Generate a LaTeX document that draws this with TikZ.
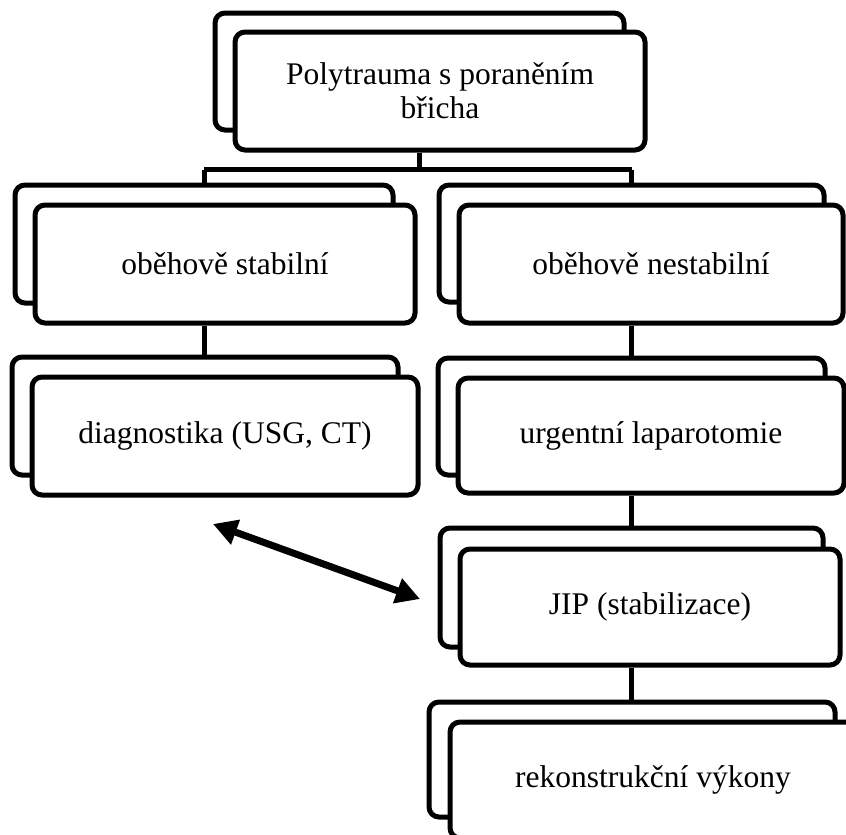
\documentclass[tikz,border=0pt]{standalone}
\usepackage{fontspec}
\setmainfont{Liberation Serif}
\usetikzlibrary{arrows.meta}
\tikzset{
  box/.style={draw, line width=5pt, rounded corners=10pt, fill=white,
    inner sep=0pt, align=center, font=\fontsize{31.5}{34}\selectfont},
  conn/.style={line width=5pt},
  dblarrow/.style={line width=7pt, {Triangle[length=24pt,width=25pt]}-{Triangle[length=24pt,width=25pt]}}
}
\begin{document}
\begin{tikzpicture}[x=1pt,y=-1pt]
\useasboundingbox (0,0) rectangle (846,835);
\fill[white] (0,0) rectangle (846,835);
\clip (0,0) rectangle (846,835);

% back boxes
\node[box, minimum width=409pt, minimum height=117pt] (topb) at (419.5,71.5) {};
% front
\node[box, minimum width=410pt, minimum height=118pt] (top) at (440,91) {Polytrauma s poraněním\\břicha};

\node[box, minimum width=378pt, minimum height=118pt] (stbb) at (204,244) {};
\node[box, minimum width=385pt, minimum height=117pt] (nestb) at (631.5,243.5) {};
\node[box, minimum width=386pt, minimum height=118pt] (diagb) at (205,416) {};
\node[box, minimum width=387pt, minimum height=117pt] (urgb) at (631.5,416.5) {};
\node[box, minimum width=383pt, minimum height=119pt] (jipb) at (631.5,587.5) {};
\node[box, minimum width=406pt, minimum height=115pt] (rekb) at (632,759.5) {};

\node[box, minimum width=380pt, minimum height=118pt] (stab) at (225,264) {oběhově stabilní};
\node[box, minimum width=384pt, minimum height=118pt] (nest) at (651,264) {oběhově nestabilní};
\node[box, minimum width=386pt, minimum height=118pt] (diag) at (225,436) {diagnostika (USG, CT)};
\node[box, minimum width=386pt, minimum height=115pt] (urg) at (651,435.5) {urgentní laparotomie};
\node[box, minimum width=380pt, minimum height=116pt] (jip) at (650,607) {JIP (stabilizace)};
\node[box, minimum width=406pt, minimum height=116pt] (rek) at (653,780) {rekonstrukční výkony};

\draw[conn] (topb.center |- top.south) -- ++(0,17) coordinate (split)
  (split -| stbb.north) -- (split -| nestb.north);
\draw[conn] (split -| stbb.north) -- (stbb.north);
\draw[conn] (split -| nestb.north) -- (nestb.north);
\draw[conn] (stbb.center |- stab.south) -- (stbb.center |- diagb.north);
\draw[conn] (nestb.center |- nest.south) -- (nestb.center |- urgb.north);
\draw[conn] (urgb.center |- urg.south) -- (urgb.center |- jipb.north);
\draw[conn] (jipb.center |- jip.south) -- (jipb.center |- rekb.north);

\coordinate (a1) at (213,524);
\coordinate (a2) at (420,599);
\draw[dblarrow] (a1) -- (a2);
\end{tikzpicture}
\end{document}
